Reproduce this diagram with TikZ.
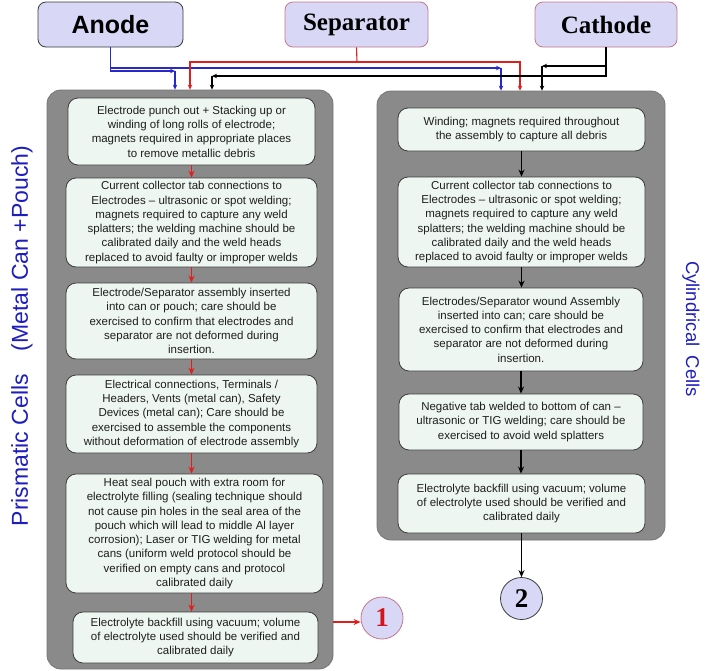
\documentclass[tikz,border=0pt]{standalone}
\usepackage{fontspec}
\setmainfont{Liberation Sans}
\newfontfamily\serifbf{Liberation Serif}
\usetikzlibrary{arrows.meta}
\definecolor{panelgray}{RGB}{138,138,138}
\definecolor{paneledge}{RGB}{118,118,118}
\definecolor{boxfill}{RGB}{237,246,241}
\definecolor{boxline}{RGB}{60,60,60}
\definecolor{lav}{RGB}{216,216,246}
\definecolor{pinkline}{RGB}{196,120,140}
\definecolor{linkblue}{RGB}{40,40,200}
\definecolor{linkred}{RGB}{225,30,30}
\definecolor{labelblue}{RGB}{30,30,190}
\definecolor{onered}{RGB}{210,20,30}
\definecolor{bodytext}{RGB}{30,30,30}
\tikzset{
  panel/.style={fill=panelgray, draw=paneledge, line width=0.8pt, rounded corners=14pt, inner sep=0pt},
  stepbox/.style={fill=boxfill, draw=boxline, line width=0.8pt, rounded corners=10pt, inner sep=0pt,
    align=center, text=bodytext, font=\fontsize{11.5}{14.3}\selectfont},
  topbox/.style={fill=lav, line width=0.8pt, rounded corners=8pt, inner sep=0pt,
    minimum height=45pt},
  endcircle/.style={circle, fill=lav, line width=0.8pt, minimum size=42pt, inner sep=0pt,
    font=\serifbf\bfseries\fontsize{27}{27}\selectfont},
  sidelabel/.style={text=labelblue, inner sep=0pt},
  tip/.style={-{Stealth[length=5pt,width=4.5pt]}},
  bigtip/.style={-{Stealth[length=7pt,width=6pt]}},
  redarrow/.style={bigtip, draw=linkred, line width=1.3pt},
  blackarrow/.style={bigtip, draw=black, line width=1.4pt},
  bluelink/.style={draw=linkblue, line width=1.2pt},
  redlink/.style={draw=linkred, line width=1.1pt},
  blacklink/.style={draw=black, line width=1.1pt},
}
\begin{document}
\begin{tikzpicture}[x=1pt,y=-1pt]
\useasboundingbox (0,0) rectangle (712,670);
\fill[white] (0,0) rectangle (712,670);

% top source boxes
\node[topbox, draw=boxline, minimum width=145pt, font=\bfseries\fontsize{25}{28}\selectfont] (A) at (110.5,24.5) {Anode};
\node[topbox, draw=pinkline, minimum width=143pt, font=\serifbf\bfseries\fontsize{25}{28}\selectfont] (S) at (356.5,24.5) {Separator};
\node[topbox, draw=pinkline, minimum width=142pt, font=\serifbf\bfseries\fontsize{25}{28}\selectfont] (K) at (606,24.5) {Cathode};

% panels
\node[panel, minimum width=286pt, minimum height=579pt] (LP) at (190,379.5) {};
\node[panel, minimum width=288pt, minimum height=449pt] (RP) at (521,315.5) {};

% side labels
\node[sidelabel, rotate=90, font=\fontsize{23}{26}\selectfont] (PL) at (22,336) {Prismatic Cells\quad(Metal Can +Pouch)};
\node[sidelabel, rotate=-90, font=\fontsize{18.5}{22}\selectfont] (CL) at (691,329) {Cylindrical\enspace Cells};

% left steps
\node[stepbox, minimum width=247pt, minimum height=67pt] (L1) at (191.5,131.5)
 {Electrode punch out + Stacking up or\\ winding of long rolls of electrode;\\ magnets required in appropriate places\\ to remove metallic debris};
\node[stepbox, minimum width=251pt, minimum height=89pt] (L2) at (191.5,222.5)
 {Current collector tab connections to\\ Electrodes -- ultrasonic or spot welding;\\ magnets required to capture any weld\\ splatters; the welding machine should be\\ calibrated daily and the weld heads\\ replaced to avoid faulty or improper welds};
\node[stepbox, minimum width=251pt, minimum height=76pt] (L3) at (191.5,321)
 {Electrode/Separator assembly inserted\\ into can or pouch; care should be\\ exercised to confirm that electrodes and\\ separator are not deformed during\\ insertion.};
\node[stepbox, minimum width=251pt, minimum height=78pt] (L4) at (191.5,414)
 {Electrical connections, Terminals /\\ Headers, Vents (metal can), Safety\\ Devices (metal can); Care should be\\ exercised to assemble the components\\ without deformation of electrode assembly};
\node[stepbox, minimum width=257pt, minimum height=119pt] (L5) at (194.5,533.5)
 {Heat seal pouch with extra room for\\ electrolyte filling (sealing technique should\\ not cause pin holes in the seal area of the\\ pouch which will lead to middle Al layer\\ corrosion); Laser or TIG welding for metal\\ cans (uniform weld protocol should be\\ verified on empty cans and protocol\\ calibrated daily};
\node[stepbox, minimum width=245pt, minimum height=51pt] (L6) at (195.5,637.5)
 {Electrolyte backfill using vacuum; volume\\ of electrolyte used should be verified and\\ calibrated daily};

% right steps
\node[stepbox, minimum width=247pt, minimum height=43pt] (R1) at (521.5,129.5)
 {Winding; magnets required throughout\\ the assembly to capture all debris};
\node[stepbox, minimum width=247pt, minimum height=90pt] (R2) at (521.5,222)
 {Current collector tab connections to\\ Electrodes -- ultrasonic or spot welding;\\ magnets required to capture any weld\\ splatters; the welding machine should be\\ calibrated daily and the weld heads\\ replaced to avoid faulty or improper welds};
\node[stepbox, minimum width=244pt, minimum height=83pt] (R3) at (521,329.5)
 {Electrodes/Separator wound Assembly\\ inserted into can; care should be\\ exercised to confirm that electrodes and\\ separator are not deformed during\\ insertion.};
\node[stepbox, minimum width=244pt, minimum height=56pt] (R4) at (521,422)
 {Negative tab welded to bottom of can --\\ ultrasonic or TIG welding; care should be\\ exercised to avoid weld splatters};
\node[stepbox, minimum width=247pt, minimum height=59pt] (R5) at (521.5,503.5)
 {Electrolyte backfill using vacuum; volume\\ of electrolyte used should be verified and\\ calibrated daily};

% end circles
\node[endcircle, draw=pinkline, text=onered] (C1) at (382,618) {1};
\node[endcircle, draw=boxline, text=black] (C2) at (521.5,598.5) {2};

% arrows inside left panel
\draw[redarrow] (L1.south) -- (L1.south |- L2.north);
\draw[redarrow] (L2.south) -- (L2.south |- L3.north);
\draw[redarrow] (L3.south) -- (L3.south |- L4.north);
\draw[redarrow] (L4.south) -- (L4.south |- L5.north);
\draw[redarrow] (L4.south |- L5.south) -- (L4.south |- L6.north);
\draw[redarrow] ([yshift=-4pt]LP.east |- C1.west) -- ([yshift=-4pt]C1.west);

% arrows inside right panel
\draw[blackarrow] (R1.south) -- (R1.south |- R2.north);
\draw[blackarrow] (R2.south) -- (R2.south |- R3.north);
\draw[blackarrow] (R3.south) -- (R3.south |- R4.north);
\draw[blackarrow] (R4.south) -- (R4.south |- R5.north);
\draw[blackarrow] (R5.south) -- (C2.north);

% feed connectors
\coordinate (b1) at (501,68);
\coordinate (b2) at (175,71);
\coordinate (rs) at (357,62);
\coordinate (r1) at (190,62);
\coordinate (r2) at (520,62);
\coordinate (k1) at (542,66);
\coordinate (k2) at (212,76);

\draw[bluelink, tip] (A.south) |- (b1);
\draw[bluelink, tip] (b1) -- (b1 |- RP.north);
\draw[bluelink, tip] (A.south) |- (b2);
\draw[bluelink, tip] (b2) -- (b2 |- LP.north);

\draw[redlink] (S.south) -- (rs);
\draw[redlink, tip] (rs) -| (r1 |- LP.north);
\draw[redlink, tip] (rs) -| (r2 |- RP.north);

\draw[blacklink, tip] (K.south) |- (k1);
\draw[blacklink, tip] (k1) -- (k1 |- RP.north);
\draw[blacklink, tip] (K.south) |- (k2);
\draw[blacklink, tip] (k2) -- (k2 |- LP.north);
\end{tikzpicture}
\end{document}
